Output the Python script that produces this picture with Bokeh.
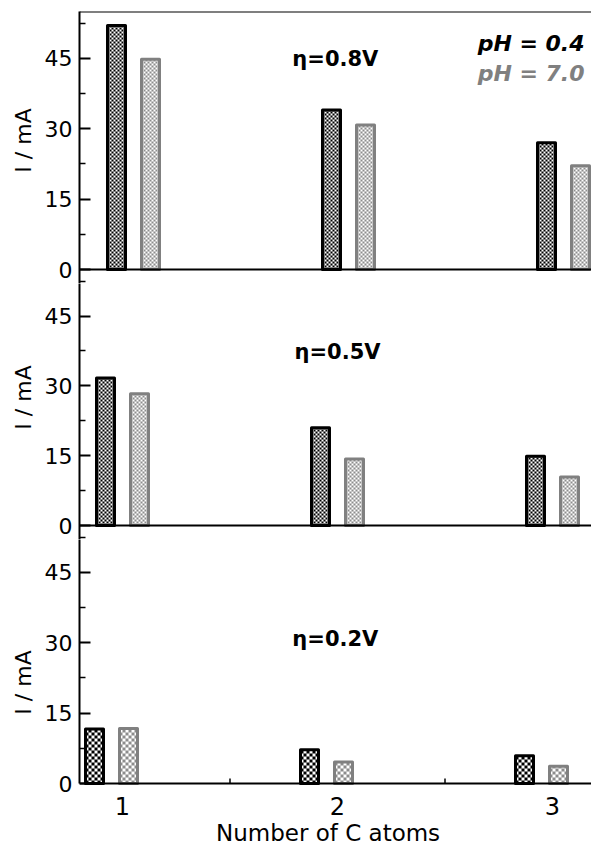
import numpy as np
from bokeh.plotting import figure
from bokeh.layouts import column
from bokeh.models import Range1d, FixedTicker, Span, ColumnDataSource, Label
from bokeh.transform import dodge
from bokeh.embed import file_html
from bokeh.resources import INLINE

# ---------------- data ----------------
carbons = [1, 2, 3]
x_tick_labels = ["1", "2", "3"]
panel_titles = ["η=0.8V", "η=0.5V", "η=0.2V"]
current_ph04 = [[52.0, 34.0, 27.0], [31.7, 21.0, 14.9], [11.6, 7.2, 5.9]]
current_ph70 = [[44.8, 30.8, 22.1], [28.3, 14.3, 10.4], [11.7, 4.6, 3.7]]
y_ticks = [0, 15, 30, 45]
y_minor_ticks = [7.5, 22.5, 37.5, 52.5]
x_minor_ticks = [1.5, 2.5]
legend_labels = ["pH = 0.4", "pH = 7.0"]
x_label = "Number of C atoms"
y_label = "I / mA"

# ---------------- layout / style ----------------
FONT = "DejaVu Sans"
BLACK = "#000000"
GREY_LINE = "#808080"
GREY_FILL = (140, 140, 140)
FULL = 55.0                                  # nominal height of each panel (data units)
zero_px = [269, 525, 783]                    # page y of each panel's zero line
top_px = [11, 269, 525]                      # page y of each panel's nominal top
OVER = 14                                    # canvas overlap below a panel's zero line
canvas = [(0, 269 + OVER, 11), (269 + OVER, 525 + OVER, 0), (525 + OVER, 846, 0)]
FIG_W = 591
LEFT = 79
XPU = 215.0                                  # x pixels per unit
pair_shift = [11 / XPU, 0.0, -11 / XPU]      # panels are slightly offset horizontally
half_gap = 17 / XPU
bar_w = 18 / XPU
checker_cell = [2, 2, 3]
title_pos = [(1.79, 44.8), (1.80, 37.2), (1.79, 30.7)]   # left edge, vertical centre
legend_pos = [(3.149, 48.1), (3.149, 41.7)]
label_pad = ["\u00a0" * 2, "\u00a0" * 4, "\u00a0" * 3]

ppus = [(zero_px[k] - top_px[k]) / FULL for k in range(3)]


def checker_image(val, ppu, rgb, cell):
    h = max(1, int(round(val * ppu)))
    w = int(round(bar_w * XPU))
    yy, xx = np.mgrid[0:h, 0:w]
    mask = ((yy // cell) + (xx // cell)) % 2 == 0
    img = np.empty((h, w), dtype=np.uint32)
    v = img.view(dtype=np.uint8).reshape((h, w, 4))
    for i, c in enumerate(rgb):
        v[..., i] = np.where(mask, c, 255)
    v[..., 3] = 255
    return img


def make_panel(k):
    c_top, c_bot, b_top = canvas[k]
    ppu = ppus[k]
    y_top = (zero_px[k] - (c_top + b_top)) / ppu
    y_bot = -(c_bot - zero_px[k]) / ppu
    p = figure(width=FIG_W, height=c_bot - c_top,
               x_range=Range1d(0.8, 0.8 + (FIG_W - LEFT) / XPU),
               y_range=Range1d(y_bot, y_top),
               output_backend="svg", toolbar_location=None,
               min_border_left=LEFT, min_border_right=0,
               min_border_top=b_top, min_border_bottom=0,
               x_axis_location=None)
    p.outline_line_color = None
    p.grid.visible = False
    p.background_fill_color = "white"
    p.border_fill_color = "white"

    # the top minor tick of the panel below falls inside this canvas
    minors = list(y_minor_ticks)
    if k < 2:
        minors.append(-(FULL - y_minor_ticks[-1]) * ppus[k + 1] / ppu)

    yax = p.yaxis[0]
    yax.ticker = FixedTicker(ticks=y_ticks, minor_ticks=minors)
    yax.axis_label = label_pad[k] + y_label
    yax.axis_label_text_font = FONT
    yax.axis_label_text_font_size = "22px"
    yax.axis_label_text_font_style = "normal"
    yax.axis_label_text_color = BLACK
    yax.axis_label_standoff = 6
    yax.major_label_text_font = FONT
    yax.major_label_text_font_size = "22px"
    yax.major_label_text_color = BLACK
    yax.major_label_standoff = 7
    yax.major_tick_in = 11
    yax.major_tick_out = 0
    yax.minor_tick_in = 6
    yax.minor_tick_out = 0
    yax.axis_line_width = 2
    yax.major_tick_line_width = 2
    yax.minor_tick_line_width = 1.5
    if k == 2:
        yax.bounds = (0, y_top)

    # zero line (x axis line) and panel-1 top border
    p.add_layout(Span(location=0, dimension="width", line_color=BLACK, line_width=2))
    if k == 0:
        p.add_layout(Span(location=FULL, dimension="width", line_color=BLACK, line_width=2))

    # checkerboard bars: textured image (pixel-aligned) + outline
    src = ColumnDataSource(dict(
        carbons=carbons, ph04=current_ph04[k], ph70=current_ph70[k],
        dh_k=[round(v * ppu) / ppu for v in current_ph04[k]],
        dh_g=[round(v * ppu) / ppu for v in current_ph70[k]],
        img_k=[checker_image(v, ppu, (0, 0, 0), checker_cell[k]) for v in current_ph04[k]],
        img_g=[checker_image(v, ppu, GREY_FILL, checker_cell[k]) for v in current_ph70[k]],
    ))
    s = pair_shift[k]
    p.image_rgba(image="img_k", x=dodge("carbons", s - half_gap - bar_w / 2), y=0,
                 dw=bar_w, dh="dh_k", source=src)
    p.image_rgba(image="img_g", x=dodge("carbons", s + half_gap - bar_w / 2), y=0,
                 dw=bar_w, dh="dh_g", source=src)
    p.vbar(x=dodge("carbons", s - half_gap), top="ph04", bottom=0, width=bar_w, source=src,
           fill_color=None, line_color=BLACK, line_width=3, line_join="round")
    p.vbar(x=dodge("carbons", s + half_gap), top="ph70", bottom=0, width=bar_w, source=src,
           fill_color=None, line_color=GREY_LINE, line_width=3, line_join="round")

    tx, ty = title_pos[k]
    p.add_layout(Label(x=tx, y=ty, text=panel_titles[k], text_font=FONT,
                       text_font_size="21px", text_font_style="bold",
                       text_align="left", text_baseline="middle", text_color=BLACK))
    if k == 0:
        for (lx, ly), txt, col in zip(legend_pos, legend_labels, [BLACK, "#808080"]):
            p.add_layout(Label(x=lx, y=ly, text=txt, text_font=FONT,
                               text_font_size="22px", text_font_style="bold italic",
                               text_align="right", text_baseline="middle", text_color=col))
    if k == 2:
        # bottom axis drawn inside the extended frame
        tick_len = 5 / ppu
        p.segment(x0=x_minor_ticks, y0=[0] * len(x_minor_ticks), x1=x_minor_ticks,
                  y1=[tick_len] * len(x_minor_ticks), line_color=BLACK, line_width=1.5)
        p.text(x=carbons, y=[-22 / ppu] * len(carbons), text=x_tick_labels,
               text_font={"value": FONT}, text_font_size={"value": "24px"},
               text_align="center", text_baseline="middle", text_color=BLACK)
        p.text(x=[1.956], y=[-49 / ppu], text=[x_label],
               text_font={"value": FONT}, text_font_size={"value": "23px"},
               text_align="center", text_baseline="middle", text_color=BLACK)
    return p


panels = [make_panel(k) for k in range(3)]
layout = column(*panels, spacing=0)
open("out.html", "w").write(file_html(layout, INLINE))
